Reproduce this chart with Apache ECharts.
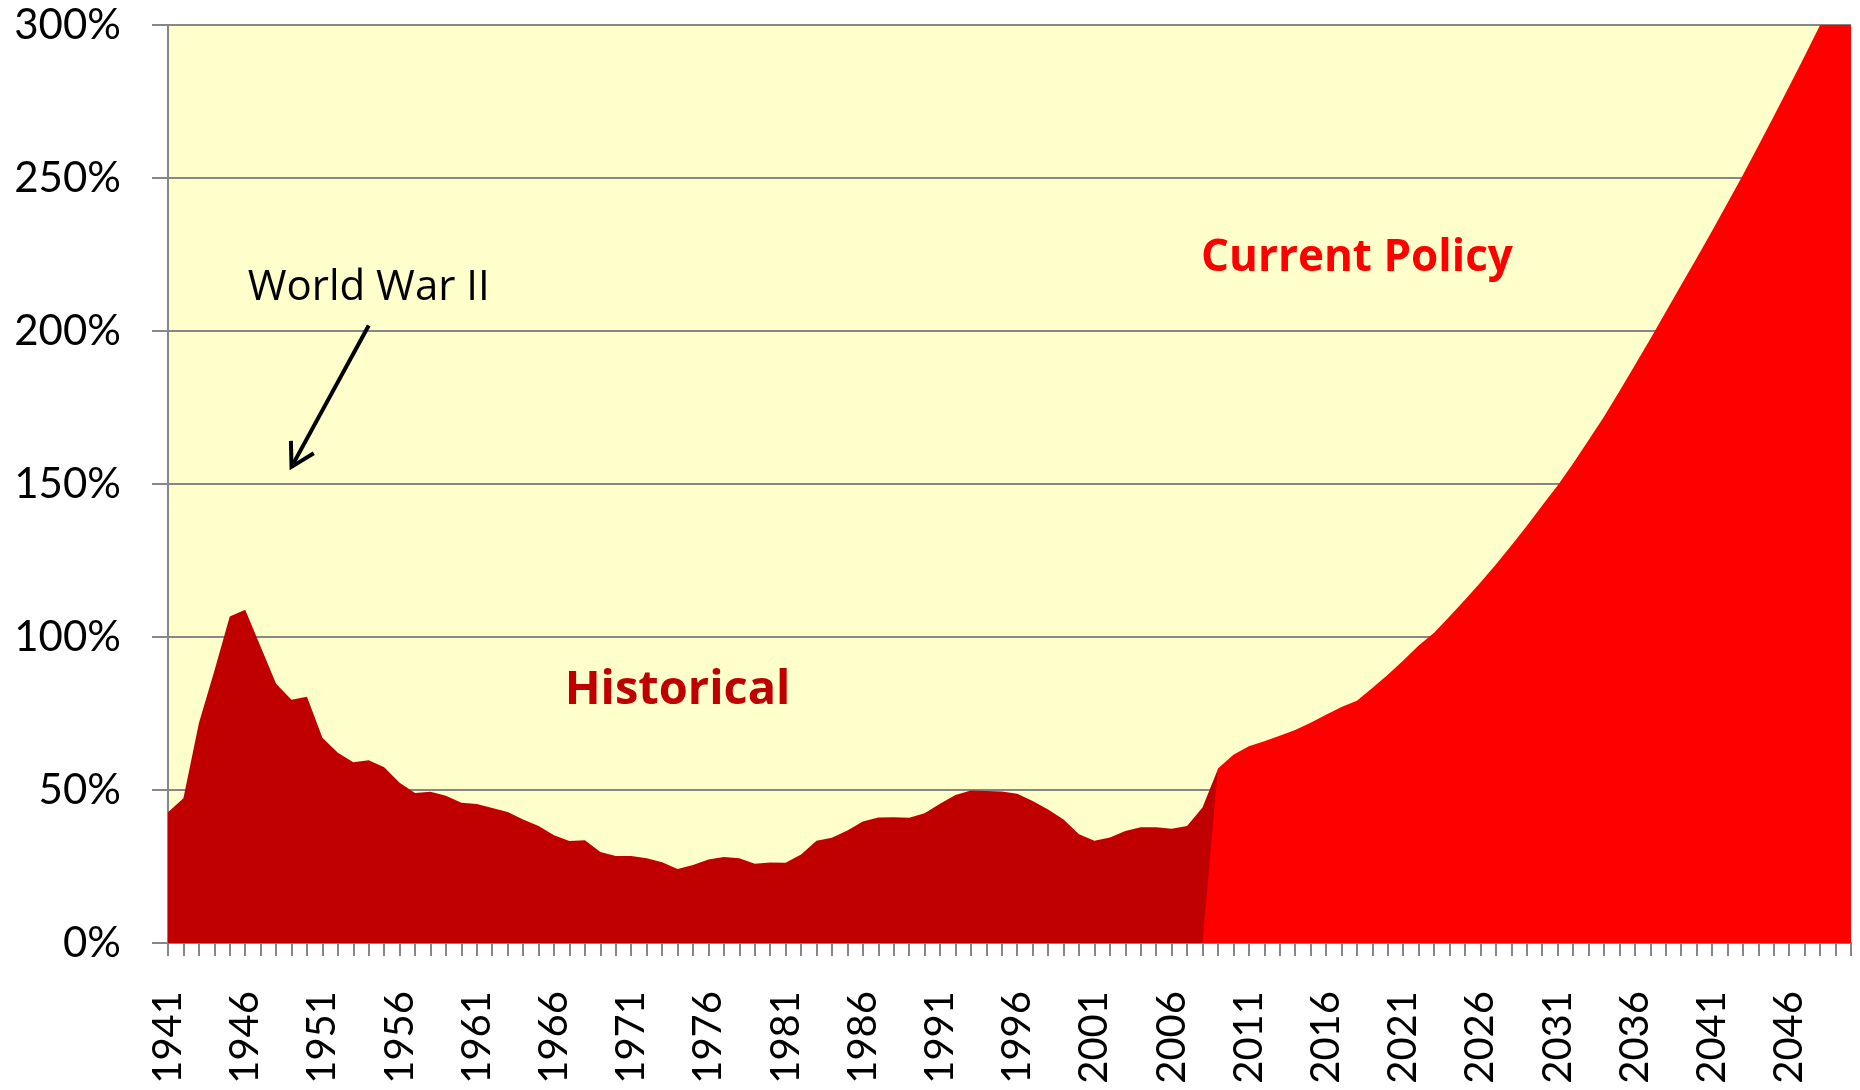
<!DOCTYPE html>
<html lang="en">
<head>
    <meta charset="UTF-8">
    <title>Debt held by the public</title>
    <style>
        * {
            margin: 0;
            padding: 0;
        }

        body {
            background-color: #fff;
        }

        #chart {
            width: 1860px;
            height: 1090px;
        }
    </style>
</head>
<body>
<div id="chart"></div>
<script src="https://cdn.jsdelivr.net/npm/echarts@6/dist/echarts.min.js"></script>
<script>
    // categories: one per year
    var firstYear = 1941;
    var lastYear = 2050;
    var years = [];
    for (var yr = firstYear; yr <= lastYear; yr++) {
        years.push(String(yr));
    }

    // historical, 1941 - 2009 (% of GDP)
    var historical = [
        42.7, 47.3, 71.8, 88.9, 106.7, 108.9, 96.8, 84.7, 79.5, 80.5,
        67.1, 62.2, 59.1, 59.7, 57.4, 52.4, 49.0, 49.4, 48.1, 45.8,
        45.4, 44.1, 42.8, 40.4, 38.2, 35.2, 33.3, 33.6, 29.7, 28.4,
        28.4, 27.7, 26.4, 24.2, 25.5, 27.3, 28.1, 27.7, 25.9, 26.3,
        26.2, 28.9, 33.4, 34.4, 36.8, 39.7, 41.0, 41.1, 40.9, 42.4,
        45.5, 48.4, 49.8, 49.7, 49.5, 48.8, 46.4, 43.6, 40.4, 35.5,
        33.4, 34.5, 36.6, 37.8, 37.8, 37.3, 38.2, 44.3, 56.9
    ];

    // current policy projection, 2008 - 2050 (% of GDP)
    var projectionStart = 2008;
    var projection = [
        0, 57.0, 61.5, 64.3, 65.9, 67.7, 69.6, 72.0, 74.6, 77.1,
        79.2, 83.3, 87.7, 92.3, 97.2, 101.4, 106.7, 112.2, 117.8, 123.7,
        129.9, 136.3, 143.0, 149.5, 156.7, 164.3, 172.0, 180.3, 188.8, 197.4,
        206.2, 215.0, 223.8, 232.7, 241.8, 251.0, 260.5, 270.2, 280.0, 289.9,
        300.0, 310.0, 320.0
    ];

    // y axis ticks (%)
    var yTicks = [0, 50, 100, 150, 200, 250, 300];

    var histData = years.map(function (y, i) {
        return i < historical.length ? historical[i] : null;
    });
    var projData = years.map(function (y) {
        var k = Number(y) - projectionStart;
        return k >= 0 ? projection[k] : null;
    });

    var gray = '#878787';
    var chart = echarts.init(document.getElementById('chart'));

    chart.setOption({
        animation: false,
        backgroundColor: '#fff',
        grid: {
            left: 168,
            right: 9,
            top: 25,
            height: 918,
            show: true,
            backgroundColor: '#FFFFCC',
            borderWidth: 0
        },
        xAxis: {
            type: 'category',
            data: years,
            boundaryGap: false,
            axisLine: {lineStyle: {color: gray, width: 2}},
            axisTick: {
                interval: 0,
                length: 13,
                lineStyle: {color: gray, width: 2}
            },
            axisLabel: {
                interval: 4,
                rotate: 90,
                margin: 48,
                color: '#000',
                fontFamily: 'Lato',
                fontSize: 40
            },
            splitLine: {show: false}
        },
        yAxis: {
            type: 'value',
            min: yTicks[0],
            max: yTicks[yTicks.length - 1],
            interval: yTicks[1] - yTicks[0],
            axisLine: {show: true, lineStyle: {color: gray, width: 2}},
            axisTick: {show: true, length: 16, lineStyle: {color: gray, width: 2}},
            axisLabel: {
                formatter: '{value}%',
                margin: 47,
                color: '#000',
                fontFamily: 'Lato',
                fontSize: 42
            },
            splitLine: {lineStyle: {color: gray, width: 2}}
        },
        series: [
            {
                name: 'Historical',
                type: 'line',
                data: histData,
                symbol: 'none',
                lineStyle: {width: 0},
                areaStyle: {color: '#C00000', opacity: 1},
                z: 2
            },
            {
                name: 'Current Policy',
                type: 'line',
                data: projData,
                symbol: 'none',
                lineStyle: {width: 0},
                areaStyle: {color: '#FF0000', opacity: 1},
                z: 3
            }
        ]
    });

    // annotations placed in data space
    function px(idx, val) {
        return chart.convertToPixel({xAxisIndex: 0, yAxisIndex: 0}, [idx, val]);
    }

    var histPos = px(33.35, 82.6);
    var policyPos = px(76.6, 223.6);
    var wwPos = px(13.05, 214.2);
    var arrowFrom = px(13.08, 201.8);
    var arrowTip = px(7.95, 155.6);

    var dx = arrowFrom[0] - arrowTip[0];
    var dy = arrowFrom[1] - arrowTip[1];
    var len = Math.sqrt(dx * dx + dy * dy);
    var ux = dx / len, uy = dy / len;
    var headLen = 26, ang = Math.PI / 6;
    function rot(x, y, a) {
        return [x * Math.cos(a) - y * Math.sin(a), x * Math.sin(a) + y * Math.cos(a)];
    }
    var a1 = rot(ux, uy, ang), a2 = rot(ux, uy, -ang);

    chart.setOption({
        graphic: [
            {
                type: 'text', z: 100,
                x: histPos[0], y: histPos[1],
                style: {
                    text: 'Historical', fill: '#C00000',
                    font: 'bold 47px "Open Sans"',
                    align: 'center', verticalAlign: 'middle'
                }
            },
            {
                type: 'text', z: 100,
                x: policyPos[0], y: policyPos[1],
                style: {
                    text: 'Current Policy', fill: '#FF0000',
                    font: 'bold 44px "Open Sans"',
                    align: 'center', verticalAlign: 'middle'
                }
            },
            {
                type: 'text', z: 100,
                x: wwPos[0], y: wwPos[1],
                style: {
                    text: 'World War II', fill: '#000',
                    font: '42px "Open Sans"',
                    align: 'center', verticalAlign: 'middle'
                }
            },
            {
                type: 'line', z: 100,
                shape: {x1: arrowFrom[0], y1: arrowFrom[1], x2: arrowTip[0], y2: arrowTip[1]},
                style: {stroke: '#000', lineWidth: 4}
            },
            {
                type: 'polyline', z: 100,
                shape: {
                    points: [
                        [arrowTip[0] + a1[0] * headLen, arrowTip[1] + a1[1] * headLen],
                        arrowTip,
                        [arrowTip[0] + a2[0] * headLen, arrowTip[1] + a2[1] * headLen]
                    ]
                },
                style: {stroke: '#000', lineWidth: 4, fill: null}
            }
        ]
    });
</script>
</body>
</html>
